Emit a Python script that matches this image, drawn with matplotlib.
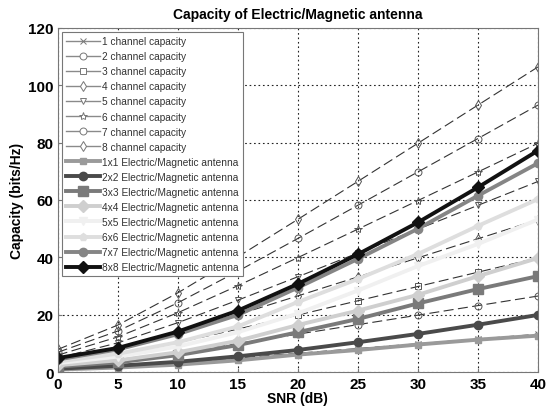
import matplotlib
matplotlib.use("Agg")
import matplotlib.pyplot as plt
from matplotlib.lines import Line2D

plt.rcParams['font.family'] = ['Liberation Sans', 'DejaVu Sans']

snr = [0, 5, 10, 15, 20, 25, 30, 35, 40]

# n-channel capacity (dashed)
ch1 = [1.0, 2.06, 3.46, 5.03, 6.66, 8.31, 9.97, 11.63, 13.29]
ch2 = [2.0, 4.11, 6.92, 10.06, 13.32, 16.62, 19.93, 23.25, 26.58]
ch3 = [3.0, 6.17, 10.38, 15.08, 19.97, 24.93, 29.90, 34.88, 39.86]
ch4 = [4.0, 8.23, 13.84, 20.11, 26.63, 33.24, 39.87, 46.51, 53.15]
ch5 = [5.0, 10.29, 17.30, 25.14, 33.29, 41.55, 49.84, 58.14, 66.44]
ch6 = [6.0, 12.34, 20.76, 30.17, 39.95, 49.86, 59.80, 69.76, 79.73]
ch7 = [7.0, 14.40, 24.21, 35.20, 46.61, 58.16, 69.77, 81.39, 93.02]
ch8 = [8.0, 16.46, 27.67, 40.22, 53.26, 66.47, 79.74, 93.02, 106.30]

# Electric/Magnetic antenna (solid)
em1 = [1.0, 1.7, 2.7, 4.2, 6.2, 7.8, 9.7, 11.4, 12.8]
em2 = [1.3, 2.3, 3.7, 5.6, 7.8, 10.5, 13.4, 16.6, 20.0]
em3 = [2.0, 3.5, 6.0, 9.5, 14.0, 18.6, 24.0, 29.0, 33.5]
em4 = [2.5, 4.2, 7.0, 11.0, 16.5, 21.5, 27.0, 33.5, 39.8]
em5 = [3.2, 5.5, 9.0, 14.0, 20.5, 28.5, 37.0, 44.7, 53.2]
em6 = [3.8, 6.5, 10.5, 16.0, 24.5, 32.5, 41.2, 51.0, 60.3]
em7 = [4.5, 8.0, 13.3, 20.0, 29.5, 39.5, 50.0, 61.5, 72.8]
em8 = [5.0, 8.5, 14.2, 21.5, 30.8, 41.1, 52.2, 64.4, 77.2]

ch_series = [ch1, ch2, ch3, ch4, ch5, ch6, ch7, ch8]
ch_markers = ['x', 'o', 's', 'd', 'v', '*', 'o', 'd']
em_series = [em1, em2, em3, em4, em5, em6, em7, em8]
em_colors = ['#9a9a9a', '#4a4a4a', '#7a7a7a', '#cfcfcf', '#f0f0f0', '#dedede', '#858585', '#111111']
em_markers = ['s', 'o', 's', 'D', 'v', 'p', 'o', 'D']
em_msize = [4, 6, 7, 6, 6, 6, 6, 6]

fig = plt.figure(figsize=(5.47, 4.14), dpi=100)
ax = fig.add_axes([0.1055, 0.098, 0.878, 0.833])

handles = []
labels = []
for i, (ys, m) in enumerate(zip(ch_series, ch_markers)):
    ms = 5 if m != '*' else 6
    ax.plot(snr, ys, color='#333333', lw=0.8, dashes=(9, 4), marker=m,
            markersize=ms, markerfacecolor='none',
            markeredgecolor='#555555', markeredgewidth=0.7)
    handles.append(Line2D([], [], color='#8a8a8a', lw=1.0, marker=m, markersize=ms,
                          markerfacecolor='white', markeredgecolor='#777777',
                          markeredgewidth=0.7))
    labels.append(f'{i+1} channel capacity')
for i, (ys, c, m, ms) in enumerate(zip(em_series, em_colors, em_markers, em_msize)):
    ln, = ax.plot(snr, ys, color=c, lw=2.8, marker=m, markersize=ms,
                  markerfacecolor=c, markeredgecolor=c)
    handles.append(ln)
    labels.append(f'{i+1}x{i+1} Electric/Magnetic antenna')

ax.set_xlim(0, 40)
ax.set_ylim(0, 120)
ax.set_xticks(range(0, 41, 5))
ax.set_yticks(range(0, 121, 20))
ax.grid(True, color='#222222', linestyle=(0, (1.5, 2.5)), linewidth=0.8)
ax.set_axisbelow(True)
for s in ax.spines.values():
    s.set_color('#777777')
ax.tick_params(direction='in', length=3, color='#777777', labelsize=11, pad=3)
for lab in ax.get_xticklabels() + ax.get_yticklabels():
    lab.set_fontweight('bold')
ax.set_xlabel('SNR (dB)', fontsize=10, fontweight='bold', labelpad=0)
ax.set_ylabel('Capacity (bits/Hz)', fontsize=10, fontweight='bold', labelpad=3)
ax.set_title('Capacity of Electric/Magnetic antenna', fontsize=10, fontweight='bold', pad=7)

leg = ax.legend(handles, labels, loc='upper left', fontsize=7.3, frameon=True, fancybox=False,
                borderaxespad=0.45, labelspacing=0.5, handlelength=3.3,
                handletextpad=0.25, borderpad=0.4)
leg.get_frame().set_edgecolor('#777777')
leg.get_frame().set_linewidth(0.8)
leg.get_frame().set_alpha(1)
for t in leg.get_texts():
    t.set_color('#333333')

fig.savefig('out.png', dpi=100)
